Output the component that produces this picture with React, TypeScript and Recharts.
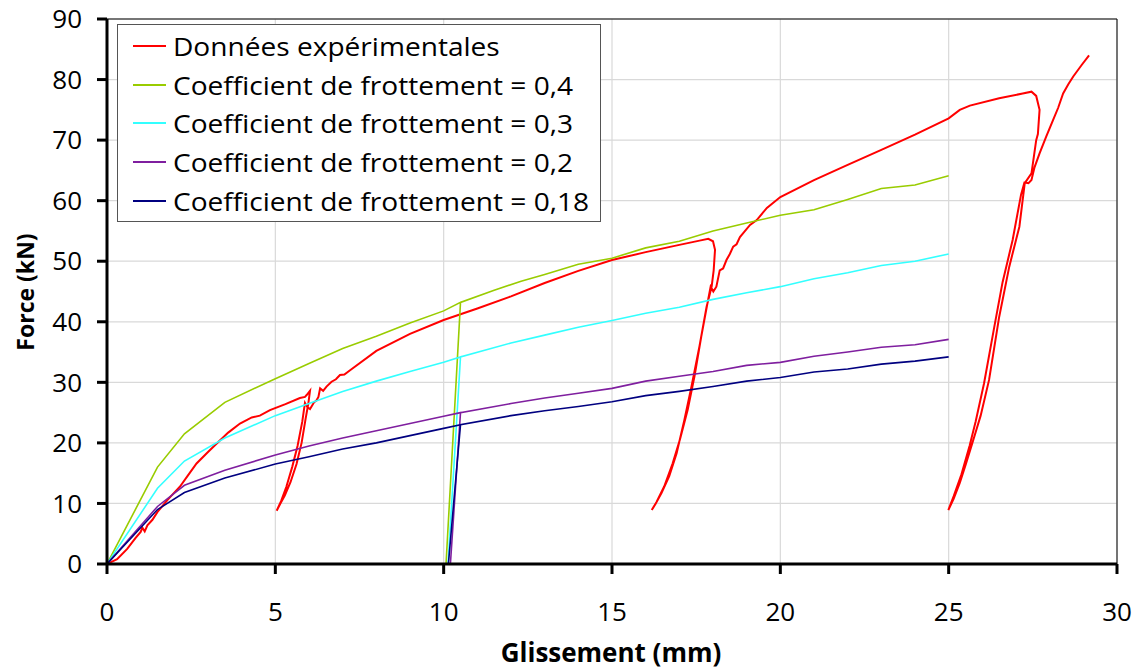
import React from 'react';
import { LineChart, Line, XAxis, YAxis, CartesianGrid, ReferenceLine } from 'recharts';

type P = [number, number];

const xTicks = [0, 5, 10, 15, 20, 25, 30];
const yTicks = [0, 10, 20, 30, 40, 50, 60, 70, 80, 90];

const experimental: P[] = [
  [0, 0], [0.3, 0.8], [0.6, 2.5], [0.85, 4.3], [1.0, 5.3], [1.05, 6.0], [1.12, 5.4], [1.2, 6.4], [1.35, 7.3], [1.5, 8.6],
  [1.8, 10.6], [2.17, 12.8], [2.4, 14.6], [2.66, 16.6], [3.0, 18.5], [3.26, 19.9], [3.6, 21.7], [3.95, 23.2], [4.3, 24.2],
  [4.54, 24.5], [4.84, 25.4], [5.3, 26.4], [5.73, 27.4], [5.88, 27.6], [5.93, 27.9], [6.03, 28.6],
  [5.98, 26.5], [5.9, 24], [5.78, 20], [5.63, 16.5], [5.45, 13.5], [5.28, 11.3], [5.15, 10], [5.04, 8.8],
  [5.18, 10.5], [5.33, 12.8], [5.5, 16], [5.66, 19.5], [5.8, 23.5], [5.88, 26.6], [5.95, 25.9], [6.03, 25.6], [6.15, 26.7],
  [6.22, 27], [6.28, 27.6], [6.33, 29], [6.42, 28.6], [6.52, 29.3], [6.67, 30.1], [6.8, 30.5], [6.92, 31.2], [7.05, 31.3],
  [7.22, 32], [8, 35.2], [9, 38], [10, 40.3], [11, 42.2], [12, 44.2], [13, 46.4], [14, 48.4], [15, 50.2], [16, 51.5],
  [17, 52.7], [17.6, 53.4], [17.86, 53.7], [18.0, 53.3], [18.06, 51.9], [18.02, 48.5], [17.96, 45.8], [17.81, 42.5],
  [17.6, 36], [17.36, 29.3], [17.15, 23.8], [16.92, 18.3], [16.7, 14.5], [16.47, 11.7], [16.3, 10], [16.18, 8.9],
  [16.32, 10.2], [16.55, 12.8], [16.8, 16.6], [17.02, 20.6], [17.25, 25.5], [17.45, 31], [17.65, 37.5], [17.85, 43.5],
  [17.93, 45.8], [18.01, 45], [18.1, 45.8], [18.2, 48.5], [18.3, 48.8], [18.4, 50.2], [18.5, 51.2], [18.6, 52.4],
  [18.7, 52.8], [18.8, 54], [19.1, 56], [19.3, 56.8], [19.6, 58.8], [20, 60.6], [21, 63.4], [22, 65.9], [23, 68.4],
  [24, 70.9], [25, 73.6], [25.33, 75], [25.63, 75.7], [26.5, 76.9], [27.2, 77.7], [27.46, 78], [27.6, 77.3], [27.7, 75],
  [27.65, 71], [27.6, 70], [27.46, 64.5], [27.26, 62.9], [27.1, 55.7], [26.8, 49.1], [26.5, 40.8], [26.2, 30.4],
  [25.95, 24.5], [25.7, 19.9], [25.5, 16.3], [25.33, 13.4], [25.15, 10.8], [24.99, 8.9],
  [25.15, 11.2], [25.38, 14.8], [25.62, 19.5], [25.8, 23.5], [26.05, 29.8], [26.35, 39], [26.6, 46.5], [26.9, 53.5],
  [27.15, 61], [27.25, 63], [27.37, 62.9], [27.46, 63.4], [27.55, 65.5], [27.7, 67.8], [27.9, 70.6], [28.1, 73.3],
  [28.25, 75.3], [28.4, 77.7], [28.55, 79.2], [28.7, 80.5], [28.95, 82.4], [29.17, 84],
];

const coef04: P[] = [
  [0, 0], [1.5, 16], [2.3, 21.5], [3.5, 26.7], [5, 30.6], [6, 33.1], [7, 35.6], [8, 37.6], [9, 39.8], [10, 41.8],
  [10.5, 43.2], [10.07, 0], [10.5, 43.2], [11.5, 45.2], [12.3, 46.7], [13, 47.8], [14, 49.5], [15, 50.5], [16, 52.2],
  [17, 53.3], [18, 55], [19, 56.3], [20, 57.6], [21, 58.5], [22, 60.2], [23, 62], [24, 62.6], [25, 64.1],
];

const coef03: P[] = [
  [0, 0], [1.5, 12.5], [2.3, 17], [3.5, 20.8], [5, 24.5], [6, 26.5], [7, 28.5], [8, 30.2], [9, 31.8], [10, 33.3],
  [10.5, 34.2], [10.13, 0], [10.5, 34.2], [12, 36.5], [13, 37.8], [14, 39.1], [15, 40.2], [16, 41.4], [17, 42.4],
  [18, 43.7], [19, 44.8], [20, 45.8], [21, 47.1], [22, 48.1], [23, 49.3], [24, 50], [25, 51.2],
];

const coef02: P[] = [
  [0, 0], [1.5, 9.5], [2.3, 13], [3.5, 15.5], [5, 18], [6, 19.5], [7, 20.8], [8, 22], [9, 23.2], [10, 24.4],
  [10.5, 25], [10.2, 0], [10.5, 25], [12, 26.5], [13, 27.4], [14, 28.2], [15, 29], [16, 30.2], [17, 31], [18, 31.8],
  [19, 32.8], [20, 33.3], [21, 34.3], [22, 35], [23, 35.8], [24, 36.2], [25, 37.1],
];

const coef018: P[] = [
  [0, 0], [1.5, 9], [2.3, 11.8], [3.5, 14.2], [5, 16.5], [6, 17.7], [7, 19], [8, 20], [9, 21.2], [10, 22.4],
  [10.5, 23], [10.14, 0], [10.5, 23], [12, 24.5], [13, 25.3], [14, 26], [15, 26.8], [16, 27.8], [17, 28.5], [18, 29.3],
  [19, 30.2], [20, 30.8], [21, 31.7], [22, 32.2], [23, 33], [24, 33.5], [25, 34.2],
];

const seriesNames = [
  'Données expérimentales',
  'Coefficient de frottement = 0,4',
  'Coefficient de frottement = 0,3',
  'Coefficient de frottement = 0,2',
  'Coefficient de frottement = 0,18',
];
const seriesColors = ['#ff0000', '#99cc00', '#33ffff', '#7f1f9f', '#000080'];
const seriesData = [experimental, coef04, coef03, coef02, coef018];
const seriesWidths = [2, 1.6, 1.6, 1.6, 1.6];

const toRows = (d: P[]) => d.map(([x, y]) => ({ x, y }));

const FONT = '"Open Sans", sans-serif';

const LegendBox = () => (
  <div
    style={{
      position: 'absolute',
      left: 117,
      top: 24,
      width: 484,
      height: 198,
      border: '1px solid #555',
      background: '#fff',
      fontFamily: FONT,
      fontSize: 26,
      color: '#000',
      paddingTop: 2,
      boxSizing: 'border-box',
    }}
  >
    {seriesNames.map((n, i) => (
      <div key={n} style={{ display: 'flex', alignItems: 'center', height: 38.6, whiteSpace: 'nowrap' }}>
        <div style={{ width: 33, height: 2, background: seriesColors[i], marginLeft: 15, marginRight: 7, flex: 'none' }} />
        <span style={{ lineHeight: '38px', display: 'inline-block', transform: 'scaleX(1.08)', transformOrigin: 'left center' }}>
          {n}
        </span>
      </div>
    ))}
  </div>
);

export default function App() {
  return (
    <div style={{ position: 'absolute', left: 0, top: 0, width: 1139, height: 669, background: '#fff' }}>
      <LineChart width={1139} height={669} margin={{ top: 19, right: 22, left: 0, bottom: 0 }}>
        <CartesianGrid stroke="#d9d9d9" strokeWidth={1.2} />
        <XAxis
          type="number"
          dataKey="x"
          domain={[0, 30]}
          ticks={xTicks}
          interval={0}
          allowDataOverflow
          height={105}
          stroke="#000"
          strokeWidth={3}
          tickSize={10}
          tickMargin={29}
          tick={{ fill: '#000', fontSize: 26, fontFamily: FONT }}
          label={() => (
            <text x={611} y={662} textAnchor="middle" fontFamily={FONT} fontWeight={700} fontSize={26} fill="#000">
              Glissement (mm)
            </text>
          )}
        />
        <YAxis
          type="number"
          domain={[0, 90]}
          ticks={yTicks}
          interval={0}
          allowDataOverflow
          width={107}
          stroke="#000"
          strokeWidth={3}
          tickSize={10}
          tickMargin={15}
          tick={{ fill: '#000', fontSize: 26, fontFamily: FONT }}
          label={() => (
            <text
              x={34}
              y={292}
              textAnchor="middle"
              transform="rotate(-90 34 292)"
              fontFamily={FONT}
              fontWeight={700}
              fontSize={23}
              fill="#000"
            >
              Force (kN)
            </text>
          )}
        />
        <ReferenceLine y={90} stroke="#000" strokeWidth={1} ifOverflow="extendDomain" />
        <ReferenceLine x={30} stroke="#000" strokeWidth={1} ifOverflow="extendDomain" />
        {seriesData.map((d, i) => (
          <Line
            key={seriesNames[i]}
            data={toRows(d)}
            dataKey="y"
            name={seriesNames[i]}
            stroke={seriesColors[i]}
            strokeWidth={seriesWidths[i]}
            dot={false}
            activeDot={false}
            type="linear"
            isAnimationActive={false}
          />
        ))}
      </LineChart>
      <LegendBox />
    </div>
  );
}
